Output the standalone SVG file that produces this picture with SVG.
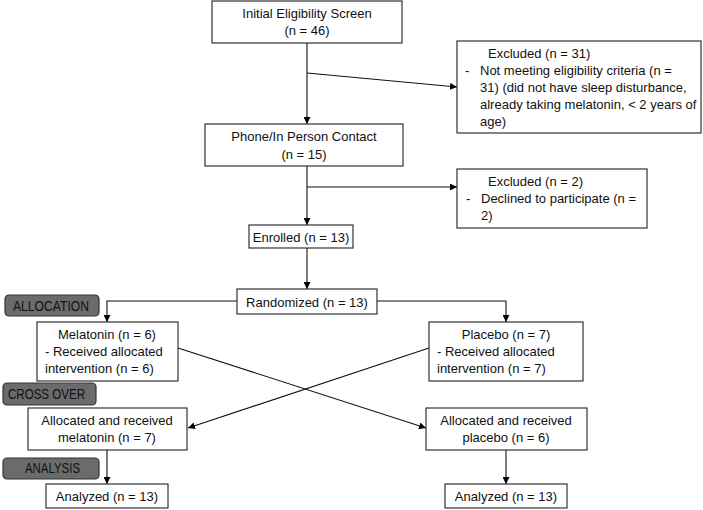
<svg xmlns="http://www.w3.org/2000/svg" width="703" height="510" viewBox="0 0 703 510">
<defs>
<marker id="ah" viewBox="0 0 10 10" refX="10" refY="5" markerWidth="7" markerHeight="7" markerUnits="userSpaceOnUse" orient="auto">
<path d="M0,0 L10,5 L0,10 Z" fill="#000"/>
</marker>
</defs>
<style>
.box{fill:#fff;stroke:#333;stroke-width:1.2}
.lab{fill:#6b6b6b;stroke:#333;stroke-width:1.2}
text{font-family:"Liberation Sans",Arial,sans-serif;font-size:13px;fill:#111}
.c{text-anchor:middle}
.lt{font-size:14px;fill:#111}
.ln{fill:none;stroke:#111;stroke-width:1.1}
</style>
<g id="connectors">
<line class="ln" x1="307" y1="43" x2="307" y2="124" marker-end="url(#ah)"/>
<line class="ln" x1="307" y1="73" x2="457" y2="87" marker-end="url(#ah)"/>
<line class="ln" x1="307" y1="166" x2="307" y2="225" marker-end="url(#ah)"/>
<line class="ln" x1="307" y1="187" x2="457" y2="187" marker-end="url(#ah)"/>
<line class="ln" x1="307" y1="248" x2="307" y2="289" marker-end="url(#ah)"/>
<polyline class="ln" points="237,301 107,301 107,322" marker-end="url(#ah)"/>
<polyline class="ln" points="377,301 506,301 506,322" marker-end="url(#ah)"/>
<line class="ln" x1="178" y1="348" x2="426" y2="428" marker-end="url(#ah)"/>
<line class="ln" x1="429" y1="348" x2="188" y2="428" marker-end="url(#ah)"/>
<line class="ln" x1="107" y1="450" x2="107" y2="484" marker-end="url(#ah)"/>
<line class="ln" x1="506" y1="450" x2="506" y2="484" marker-end="url(#ah)"/>
</g>
<g id="screen">
<rect class="box" x="212" y="1" width="190" height="42"/>
<text class="c" x="307" y="18">Initial Eligibility Screen</text>
<text class="c" x="307" y="35">(n = 46)</text>
</g>
<g id="excluded1">
<rect class="box" x="457" y="41" width="244" height="92"/>
<text x="488" y="58">Excluded (n = 31)</text>
<text x="465" y="75">-</text>
<text x="480" y="75">Not meeting eligibility criteria (n =</text>
<text x="480" y="92">31) (did not have sleep disturbance,</text>
<text x="480" y="109">already taking melatonin, &lt; 2 years of</text>
<text x="480" y="126">age)</text>
</g>
<g id="contact">
<rect class="box" x="205" y="124" width="198" height="42"/>
<text class="c" x="304" y="141">Phone/In Person Contact</text>
<text class="c" x="304" y="159">(n = 15)</text>
</g>
<g id="excluded2">
<rect class="box" x="457" y="169" width="190" height="59"/>
<text x="488" y="186">Excluded (n = 2)</text>
<text x="466" y="203">-</text>
<text x="481" y="203">Declined to participate (n =</text>
<text x="481" y="220">2)</text>
</g>
<g id="enrolled">
<rect class="box" x="249" y="225" width="104" height="23"/>
<text class="c" x="301" y="242">Enrolled (n = 13)</text>
</g>
<g id="randomized">
<rect class="box" x="237" y="289" width="140" height="25"/>
<text class="c" x="307" y="307">Randomized (n = 13)</text>
</g>
<g id="allocation">
<rect class="lab" x="5" y="295" width="94" height="21" rx="4"/>
<text class="lt" x="13" y="311" textLength="76" lengthAdjust="spacingAndGlyphs">ALLOCATION</text>
</g>
<g id="melatonin">
<rect class="box" x="37" y="322" width="141" height="59"/>
<text class="c" x="107" y="339">Melatonin (n = 6)</text>
<text x="45" y="356">- Received allocated</text>
<text x="45" y="373">intervention (n = 6)</text>
</g>
<g id="placebo">
<rect class="box" x="429" y="322" width="154" height="59"/>
<text class="c" x="506" y="339">Placebo (n = 7)</text>
<text x="437" y="356">- Received allocated</text>
<text x="437" y="373">intervention (n = 7)</text>
</g>
<g id="crossover">
<rect class="lab" x="3" y="383" width="93" height="22" rx="4"/>
<text class="lt" x="8" y="399" textLength="77" lengthAdjust="spacingAndGlyphs">CROSS OVER</text>
</g>
<g id="alloc-melatonin">
<rect class="box" x="28" y="408" width="159" height="42"/>
<text class="c" x="107" y="425">Allocated and received</text>
<text class="c" x="107" y="442">melatonin (n = 7)</text>
</g>
<g id="alloc-placebo">
<rect class="box" x="426" y="408" width="161" height="42"/>
<text class="c" x="506" y="425">Allocated and received</text>
<text class="c" x="506" y="442">placebo (n = 6)</text>
</g>
<g id="analysis">
<rect class="lab" x="3" y="458" width="96" height="21" rx="4"/>
<text class="lt" x="25" y="473" textLength="55" lengthAdjust="spacingAndGlyphs">ANALYSIS</text>
</g>
<g id="analyzed1">
<rect class="box" x="46" y="484" width="122" height="24"/>
<text class="c" x="107" y="501">Analyzed (n = 13)</text>
</g>
<g id="analyzed2">
<rect class="box" x="445" y="484" width="122" height="24"/>
<text class="c" x="506" y="501">Analyzed (n = 13)</text>
</g>
</svg>
